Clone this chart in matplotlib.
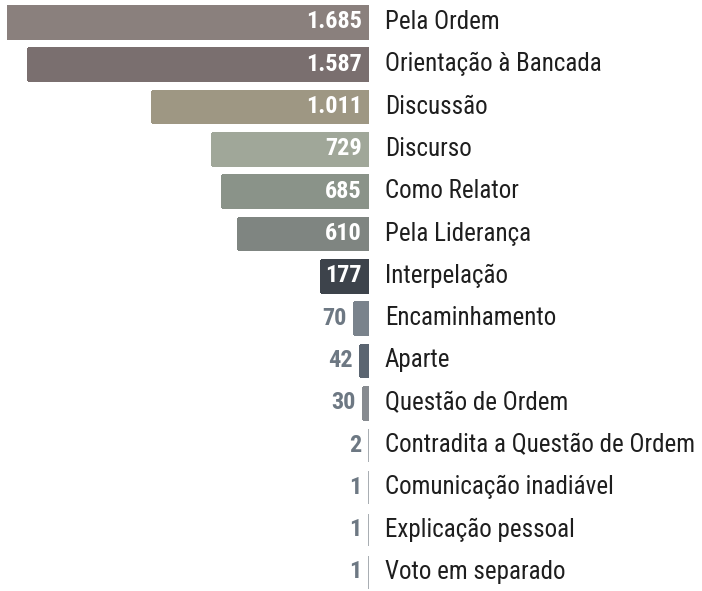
import matplotlib
matplotlib.use("Agg")
import matplotlib.pyplot as plt
from matplotlib import font_manager
from matplotlib.transforms import offset_copy

# --- data ---
categories = ["Pela Ordem", "Orientação à Bancada", "Discussão", "Discurso",
              "Como Relator", "Pela Liderança", "Interpelação", "Encaminhamento",
              "Aparte", "Questão de Ordem", "Contradita a Questão de Ordem",
              "Comunicação inadiável", "Explicação pessoal", "Voto em separado"]
values = [1685, 1587, 1011, 729, 685, 610, 177, 70, 42, 30, 2, 1, 1, 1]
value_labels = ["1.685", "1.587", "1.011", "729", "685", "610", "177",
                "70", "42", "30", "2", "1", "1", "1"]
colors = ["#8a807d", "#7a6f6f", "#9e9783", "#a0a799", "#8a9389", "#7f8581",
          "#3d434b", "#7a838c", "#5b6571", "#878b90", "#a9aeb3", "#a9aeb3",
          "#a9aeb3", "#a9aeb3"]
inside = [True, True, True, True, True, True, True,
          False, False, False, False, False, False, False]

names = {f.name for f in font_manager.fontManager.ttflist}
if "Roboto Condensed" in names:
    fam = ["Roboto Condensed", "DejaVu Sans"]
    stretch = "normal"
else:
    fam = ["Roboto", "DejaVu Sans"]
    stretch = "condensed"
plt.rcParams["font.family"] = fam

fig = plt.figure(figsize=(7.02, 5.91), dpi=100)
ax = fig.add_axes([7 / 702, 0, (369 - 7) / 702, 1])
bars = ax.barh(range(len(values)), values, height=0.75, color=colors,
               edgecolor=colors, linewidth=0.9, antialiased=False,
               joinstyle="miter")
ax.set_xlim(1685, 0)
ax.set_ylim((591 - 22) / 42.3, -22 / 42.3)
ax.axis("off")

lab_tr = offset_copy(ax.transData, fig=fig, x=16, y=0, units="dots")
in_tr = offset_copy(ax.transData, fig=fig, x=-7, y=0, units="dots")
out_tr = offset_copy(ax.transData, fig=fig, x=-7, y=0, units="dots")

inner_texts = []
for i, (cat, v, vl, ins) in enumerate(zip(categories, values, value_labels, inside)):
    ax.text(0, i, cat, transform=lab_tr, ha="left", va="center",
            fontsize=18, color="#1e1e1e", fontstretch=stretch, clip_on=False)
    if ins:
        t = ax.text(0, i, vl, transform=in_tr, ha="right", va="center",
                    fontsize=17.5, fontweight="bold", color="white", fontstretch=stretch)
        inner_texts.append((i, t))
    else:
        ax.text(v, i, vl, transform=out_tr, ha="right", va="center",
                fontsize=17.5, fontweight="bold", color="#6d7883", fontstretch=stretch)

# widen short bars so the white label fits inside
renderer = fig.canvas.get_renderer()
inv = ax.transData.inverted()
for i, t in inner_texts:
    bb = t.get_window_extent(renderer)
    need = inv.transform((bb.x0 - 5, 0))[0]
    if need > bars[i].get_width():
        bars[i].set_width(need)

fig.savefig("out.png", dpi=100)
